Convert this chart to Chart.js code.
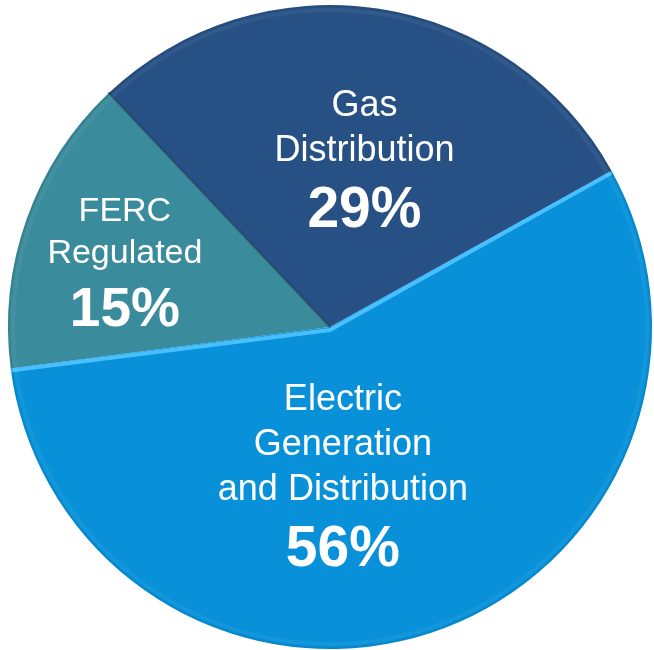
<!DOCTYPE html>
<html>
<head>
<meta charset="utf-8">
<script src="https://cdn.jsdelivr.net/npm/chart.js@4"></script>
<style>
html,body{margin:0;padding:0;background:#ffffff;}
#wrap{width:654px;height:650px;position:relative;}
</style>
</head>
<body>
<div id="wrap"><canvas id="c" width="654" height="650"></canvas></div>
<script>
const categories = ["FERC Regulated", "Gas Distribution", "Electric Generation and Distribution"];
const labelLines = [["FERC", "Regulated"], ["Gas", "Distribution"], ["Electric", "Generation", "and Distribution"]];
const shares = [15, 29, 56];
const percentLabels = ["15%", "29%", "56%"];
const sliceColors = ["#3a8b9c", "#275185", "#0891d9"];

// label placement relative to pie centre, in units of radius (first baseline)
const labelAnchors = [
  {fx: -0.637, fy: -0.33, size: 34, pct: 55},
  {fx: 0.107, fy: -0.655, size: 36, pct: 57},
  {fx: 0.04, fy: 0.258, size: 36, pct: 57}
];

const decor = {
  id: 'decor',
  afterDatasetsDraw(chart) {
    const ctx = chart.ctx;
    const meta = chart.getDatasetMeta(0);
    // dark crease between FERC and Gas
    const f = meta.data[0];
    ctx.save();
    ctx.lineCap = 'round';
    ctx.strokeStyle = 'rgba(20,45,70,0.5)';
    ctx.lineWidth = 2;
    ctx.beginPath();
    ctx.moveTo(f.x, f.y);
    ctx.lineTo(f.x + Math.cos(f.endAngle) * f.outerRadius, f.y + Math.sin(f.endAngle) * f.outerRadius);
    ctx.stroke();
    // highlight along Electric edges
    const e = meta.data[2];
    ctx.strokeStyle = '#48c0ff';
    ctx.lineWidth = 4;
    ctx.lineJoin = 'round';
    ctx.beginPath();
    ctx.moveTo(e.x + Math.cos(e.endAngle) * (e.outerRadius - 2), e.y + Math.sin(e.endAngle) * (e.outerRadius - 2) + 2);
    ctx.lineTo(e.x, e.y + 3);
    ctx.lineTo(e.x + Math.cos(e.startAngle) * (e.outerRadius - 2), e.y + Math.sin(e.startAngle) * (e.outerRadius - 2) + 2);
    ctx.stroke();
    // soft outer rim shading
    ctx.strokeStyle = 'rgba(0,0,0,0.07)';
    ctx.lineWidth = 2;
    ctx.beginPath();
    ctx.arc(e.x, e.y, e.outerRadius - 1, 0, Math.PI * 2);
    ctx.stroke();
    ctx.strokeStyle = 'rgba(255,255,255,0.05)';
    ctx.lineWidth = 4;
    ctx.beginPath();
    ctx.arc(e.x, e.y, e.outerRadius - 5, 0, Math.PI * 2);
    ctx.stroke();

    // text labels
    ctx.fillStyle = '#ffffff';
    ctx.textAlign = 'center';
    ctx.textBaseline = 'alphabetic';
    meta.data.forEach((arc, i) => {
      const a = labelAnchors[i];
      const R = arc.outerRadius;
      const cx = arc.x + a.fx * R;
      let y = arc.y + a.fy * R;
      ctx.font = a.size + 'px "Liberation Sans", Arial, sans-serif';
      labelLines[i].forEach((ln, k) => {
        if (k > 0) y += a.size * 1.25;
        ctx.fillText(ln, cx, y);
      });
      y += a.pct * 1.15;
      ctx.font = 'bold ' + a.pct + 'px "Liberation Sans", Arial, sans-serif';
      ctx.fillText(percentLabels[i], cx, y);
    });
    ctx.restore();
  }
};

new Chart(document.getElementById('c'), {
  type: 'pie',
  data: {
    labels: categories,
    datasets: [{
      data: shares,
      backgroundColor: sliceColors,
      borderWidth: 0
    }]
  },
  options: {
    responsive: false,
    animation: false,
    rotation: 262.6,
    layout: {padding: {left: 8, right: 2, top: 5, bottom: 1}},
    plugins: {legend: {display: false}, tooltip: {enabled: false}}
  },
  plugins: [decor]
});
</script>
</body>
</html>
